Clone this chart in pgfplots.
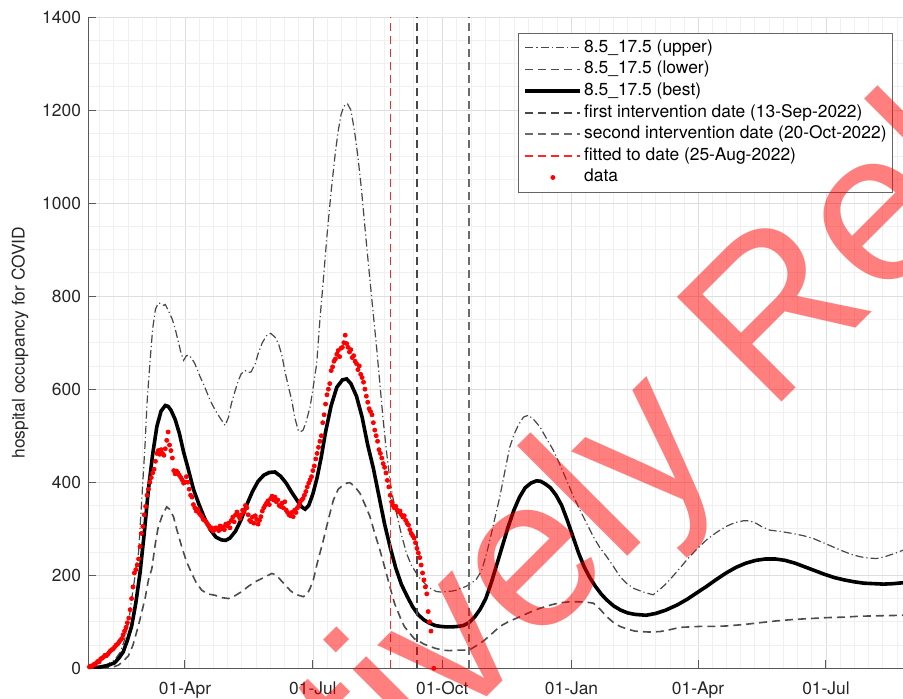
\documentclass[border=0pt]{standalone}
\usepackage{fontspec}
\setmainfont{TeX Gyre Heros}
\newfontfamily\wmfont{Liberation Sans}
\usepackage{pgfplots}
\pgfplotsset{compat=1.18}
\begin{document}
\begin{tikzpicture}
\begin{axis}[
  at={(44pt,14.85pt)}, anchor=south west,
  scale only axis, width=407.5pt, height=325.65pt,
  xmin=21, xmax=600.8, ymin=0, ymax=1400,
  axis x line*=bottom, axis y line*=left,
  axis line style={black!65, line width=0.5pt},
  tick style={black!65, line width=0.5pt},
  major tick length=4pt, minor tick length=0pt,
  xtick={90,181,273,365,455,546},
  xticklabels={01-Apr,01-Jul,01-Oct,01-Jan,01-Apr,01-Jul},
  minor xtick={29.3,39.4,49.6,59.7,69.8,79.9,100.1,110.2,120.3,130.4,140.6,150.7,160.8,170.9,191.2,201.4,211.7,221.9,232.1,242.3,252.6,262.8,283.2,293.4,303.7,313.9,324.1,334.3,344.6,354.8,375,385,395,405,415,425,435,445,465.1,475.2,485.3,495.4,505.6,515.7,525.8,535.9,556.1,566.2,576.3,586.4,596.6},
  ytick={0,200,...,1400},
  minor y tick num=3,
  grid=both,
  major grid style={black!13, line width=0.4pt},
  minor grid style={black!6, line width=0.4pt},
  tick label style={font=\fontsize{8.7}{10}\selectfont, text=black!85},
  /pgf/number format/assume math mode=true,
  /pgf/number format/1000 sep={},
  xticklabel style={yshift=-3pt},
  ylabel={hospital occupancy for COVID},
  every axis y label/.style={at={(axis description cs:-0.0834,0.5)}, rotate=90, anchor=center, font=\fontsize{8.7}{10}\selectfont, text=black!85},
  legend style={at={(axis description cs:0.5276,0.9759)}, anchor=north west, draw=black!60, fill=white, font=\fontsize{8.7}{10}\selectfont, inner xsep=2pt, inner ysep=2pt, row sep=0pt, nodes={text height=6.6pt, text depth=2.2pt, inner sep=1pt}, /tikz/every even column/.append style={column sep=2.8pt}},
  legend cell align=left,
  legend image code/.code={\path[draw=none,fill=none] (0pt,0pt) -- (1.5pt,0pt); \draw[mark repeat=2,mark phase=2,#1] plot coordinates {(1.5pt,0pt) (15.25pt,0pt) (29pt,0pt)};},
]
% upper
\addplot[black!72, line width=0.6pt, dash pattern=on 4pt off 1.5pt on 0.6pt off 1.5pt] coordinates {
(21,0) (25,1) (30,4) (35,9) (40,18) (44,35) (47,61) (50,100) (52,147) (55,210) (57,250) (59,350) (61.5,476) (63,570) (65,655) (67,730) (69,772) (71,785) (73,784) (75,780) (76,782) (78,770) (81,750) (83,730) (85,705) (87,680) (89,662) (91,672) (93,673) (95,665) (97,655) (100,632) (104,605) (108,575) (111.5,555) (115,538) (118.6,522) (121,540) (123,569) (126,600) (128,619) (130,633) (132.8,640) (135,636) (137,637) (140,655) (142,676) (145,700) (148,715) (151,720) (154,712) (156.5,698) (159,672) (161,640) (164,600) (166,576) (168,540) (170.5,512) (172,508) (174,512) (176,528) (179,562) (181,600) (183.7,655) (186,750) (188.4,834) (191,930) (194,1026) (197,1110) (199,1155) (201,1190) (203,1208) (205.5,1214) (208,1200) (210.6,1155) (213,1100) (215.4,1034) (218.9,919) (221.6,834) (224,760) (226.3,690) (228.7,610) (231,533) (233.4,465) (235.8,404) (238,365) (240.5,333) (244,287) (247.6,247) (251,222) (254.7,204) (258,190) (261.8,179) (265,171) (268.9,165) (272,164) (276,165) (280,166) (283.1,168) (286,172) (290,176) (293,182) (297,190) (301,210) (304.6,247) (308,290) (311,330) (314,369) (318,430) (321,475) (324,502) (327,522) (330.8,540) (334.3,544) (338,535) (342.5,519) (347,495) (352,469) (356,443) (361.5,404) (366,372) (371,340) (376,310) (380.5,283) (385,260) (390,240) (395,218) (399.5,197) (404,183) (409,172) (416,164) (423,158) (428,170) (432.7,183) (440,208) (447,233) (454,256) (461,276) (468,292) (475,305) (481,313) (487,317) (491,317) (495,314) (500,305) (506,297) (514,294) (522,290) (530,285) (537,279) (544,270) (551,261) (558,252) (564,245) (570,240) (576,237) (582,236) (588,240) (594,246) (601,254)
};
\addlegendentry{8.5\_17.5 (upper)}
% lower
\addplot[black!70, line width=0.8pt, dash pattern=on 4pt off 2.5pt] coordinates {
(21,0) (30,0) (35,1) (40,4) (42.7,7) (46,15) (49.8,27) (53,50) (56.9,92) (59,118) (61.6,150) (64,190) (66.4,214) (69,270) (71,304) (74,330) (77,347) (79,342) (81.8,326) (84,300) (87.7,261) (91,230) (94.8,204) (98,184) (101.9,168) (106,160) (111.4,157) (116,152) (120.9,150) (125,155) (130.4,165) (135,176) (139.9,186) (144,192) (148,198) (151.8,204) (155,200) (158,190) (161.3,179) (165,167) (168,160) (170.8,157) (174.2,154) (177,160) (179,172) (181.3,190) (184,225) (188.4,275) (192,320) (195.5,361) (199,385) (202.6,394) (205,398) (207.4,399) (211,390) (214.5,376) (218,352) (221.6,326) (225,290) (228.7,254) (232,218) (235.8,175) (239,140) (242.9,111) (246,90) (250,75) (253,64) (257.2,57) (260,52) (264.3,47) (268,43) (273.7,39) (278,38) (283.1,39) (288,39) (292.6,40) (298,50) (302,58) (306,68) (310,79) (314,90) (320,100) (328.3,111) (335,120) (342.5,129) (350,136) (356.8,141) (364,143) (371,143) (376,142) (380.5,140) (385,128) (390,111) (395,98) (399.5,90) (405,84) (410,80) (414,79) (420,78) (428,79) (435,83) (442,88) (449,89) (456,90) (465,90) (475,91) (487,94) (499,98) (511,102) (523,105) (535,107) (547,109) (559,110) (570,112) (585,113) (601,114)
};
\addlegendentry{8.5\_17.5 (lower)}
% best
\addplot[black, line width=1.8pt] coordinates {
(21,0) (25,1) (30,3) (35,6) (40,12) (43,22) (46,35) (49,60) (52,90) (55,140) (58,205) (61,290) (64,385) (67,460) (70,520) (73,553) (76,565) (78,563) (80,555) (83,535) (86,505) (89,465) (92,432) (96,385) (100,352) (104,322) (108,298) (112,282) (116,276) (119,275) (122,280) (126,295) (130,320) (134,352) (138,380) (142,402) (146,415) (150,421) (154,422) (158,413) (162,398) (166,378) (170,360) (173,347) (175.5,342) (178,350) (181,375) (184,410) (187,455) (190,508) (194,565) (198,604) (202,620) (205,622) (208,612) (212,585) (216,540) (220,480) (224,430) (228,370) (232,310) (236,260) (240,215) (244,180) (248,155) (252,132) (256,115) (260,104) (264,97) (268,92) (272,90) (276,89) (280,89) (284,90) (288,92) (292,98) (296,110) (300,127) (304,150) (308,185) (312,225) (316,265) (320,305) (324,340) (328,368) (332,388) (336,398) (340,403) (343,402) (346,397) (350,388) (354,372) (358,350) (362,318) (366,283) (370,248) (374,218) (378,195) (382,176) (386,160) (390,147) (395,134) (400,125) (405,119) (410,116) (418,114) (425,118) (432,125) (440,136) (447,148) (454,162) (461,176) (468,191) (475,205) (482,217) (489,226) (496,232) (503,235) (510,235) (517,232) (524,226) (531,218) (538,210) (545,202) (552,195) (559,190) (566,186) (573,183) (580,182) (587,181) (594,182) (601,184)
};
\addlegendentry{8.5\_17.5 (best)}
% first intervention 13-Sep-2022
\addplot[black!72, line width=0.9pt, dash pattern=on 4pt off 2.5pt] coordinates {(255,0) (255,1400)};
\addlegendentry{first intervention date (13-Sep-2022)}
% second intervention 20-Oct-2022
\addplot[black!58, line width=0.9pt, dash pattern=on 4pt off 2.5pt] coordinates {(292,0) (292,1400)};
\addlegendentry{second intervention date (20-Oct-2022)}
% fitted to date 25-Aug-2022
\addplot[red!85, line width=0.7pt, dash pattern=on 4pt off 2.5pt] coordinates {(236,0) (236,1400)};
\addlegendentry{fitted to date (25-Aug-2022)}
% data
\addplot[only marks, mark=*, mark size=1pt, color=red, mark options={draw=red, fill=red}] coordinates {
(22,3) (23,5) (24,4) (25,8) (26,8) (27,12) (28,15) (29,14) (30,20) (31,22) (32,24) (33,28) (34,27) (35,30) (36,34) (37,38) (38,40) (39,42) (40,46) (41,50) (42,52) (43,56) (44,60) (45,64) (46,72) (47,80) (48,88) (49,98) (50,108) (51,126) (52,150) (53,175) (54,205) (55,212) (56,222) (57,235) (58,262) (59,290) (60,305) (61,330) (62,348) (63,372) (64,385) (65,400) (66,410) (67,420) (68,428) (69,445) (70,462) (71,468) (72,460) (73,470) (74,462) (75,458) (76,472) (77,490) (78,508) (79,480) (80,468) (81,452) (82,425) (83,418) (84,424) (85,420) (86,415) (87,410) (88,405) (89,398) (90,400) (91,412) (92,400) (93,385) (94,372) (95,368) (96,352) (97,345) (98,338) (99,342) (100,334) (101,330) (102,326) (103,320) (104,318) (105,315) (106,310) (107,306) (108,300) (109,302) (110,295) (111,298) (112,302) (113,300) (114,296) (115,306) (116,300) (117,304) (118,298) (119,310) (120,306) (121,312) (122,302) (123,318) (124,325) (125,315) (126,330) (127,336) (128,328) (129,322) (130,330) (131,340) (132,336) (133,350) (134,345) (135,330) (136,318) (137,315) (138,325) (139,312) (140,328) (141,320) (142,310) (143,318) (144,326) (145,338) (146,345) (147,350) (148,355) (149,360) (150,352) (151,365) (152,370) (153,362) (154,368) (155,358) (156,362) (157,350) (158,348) (159,355) (160,345) (161,358) (162,340) (163,335) (164,330) (165,328) (166,335) (167,326) (168,340) (169,335) (170,345) (171,350) (172,358) (173,362) (174,365) (175,372) (176,380) (177,390) (178,398) (179,405) (180,412) (181,425) (182,435) (183,450) (184,462) (185,475) (186,488) (187,500) (188,528) (189,545) (190,568) (191,588) (192,600) (193,612) (194,640) (195,648) (196,660) (197,665) (198,675) (199,683) (200,670) (201,688) (202,690) (203,700) (204,716) (205,698) (206,690) (207,680) (208,685) (209,668) (210,672) (211,660) (212,655) (213,642) (214,650) (215,632) (216,625) (217,615) (218,600) (219,585) (220,572) (221,558) (222,552) (223,545) (224,528) (225,512) (226,500) (227,488) (228,470) (229,462) (230,452) (231,440) (232,432) (233,420) (234,404) (235,390) (236,372) (237,358) (238,350) (239,345) (240,348) (241,340) (242,336) (243,338) (244,330) (245,325) (246,328) (247,318) (248,312) (249,308) (250,298) (251,290) (252,285) (253,280) (254,270) (255,258) (256,248) (257,238) (258,222) (259,205) (260,190) (261,175) (262,160) (263,122) (264,100) (265,80) (267,0)
};
\addlegendentry{data}
\end{axis}
\node[anchor=base west, rotate=45, inner sep=0pt, text=red, opacity=0.5, font=\fontsize{107.5}{110}\selectfont\wmfont] at (-8pt,-251pt) {Proactively Released};
\pgfresetboundingbox
\path[use as bounding box] (0,0) rectangle (451.5pt,349pt);
\end{tikzpicture}
\end{document}
